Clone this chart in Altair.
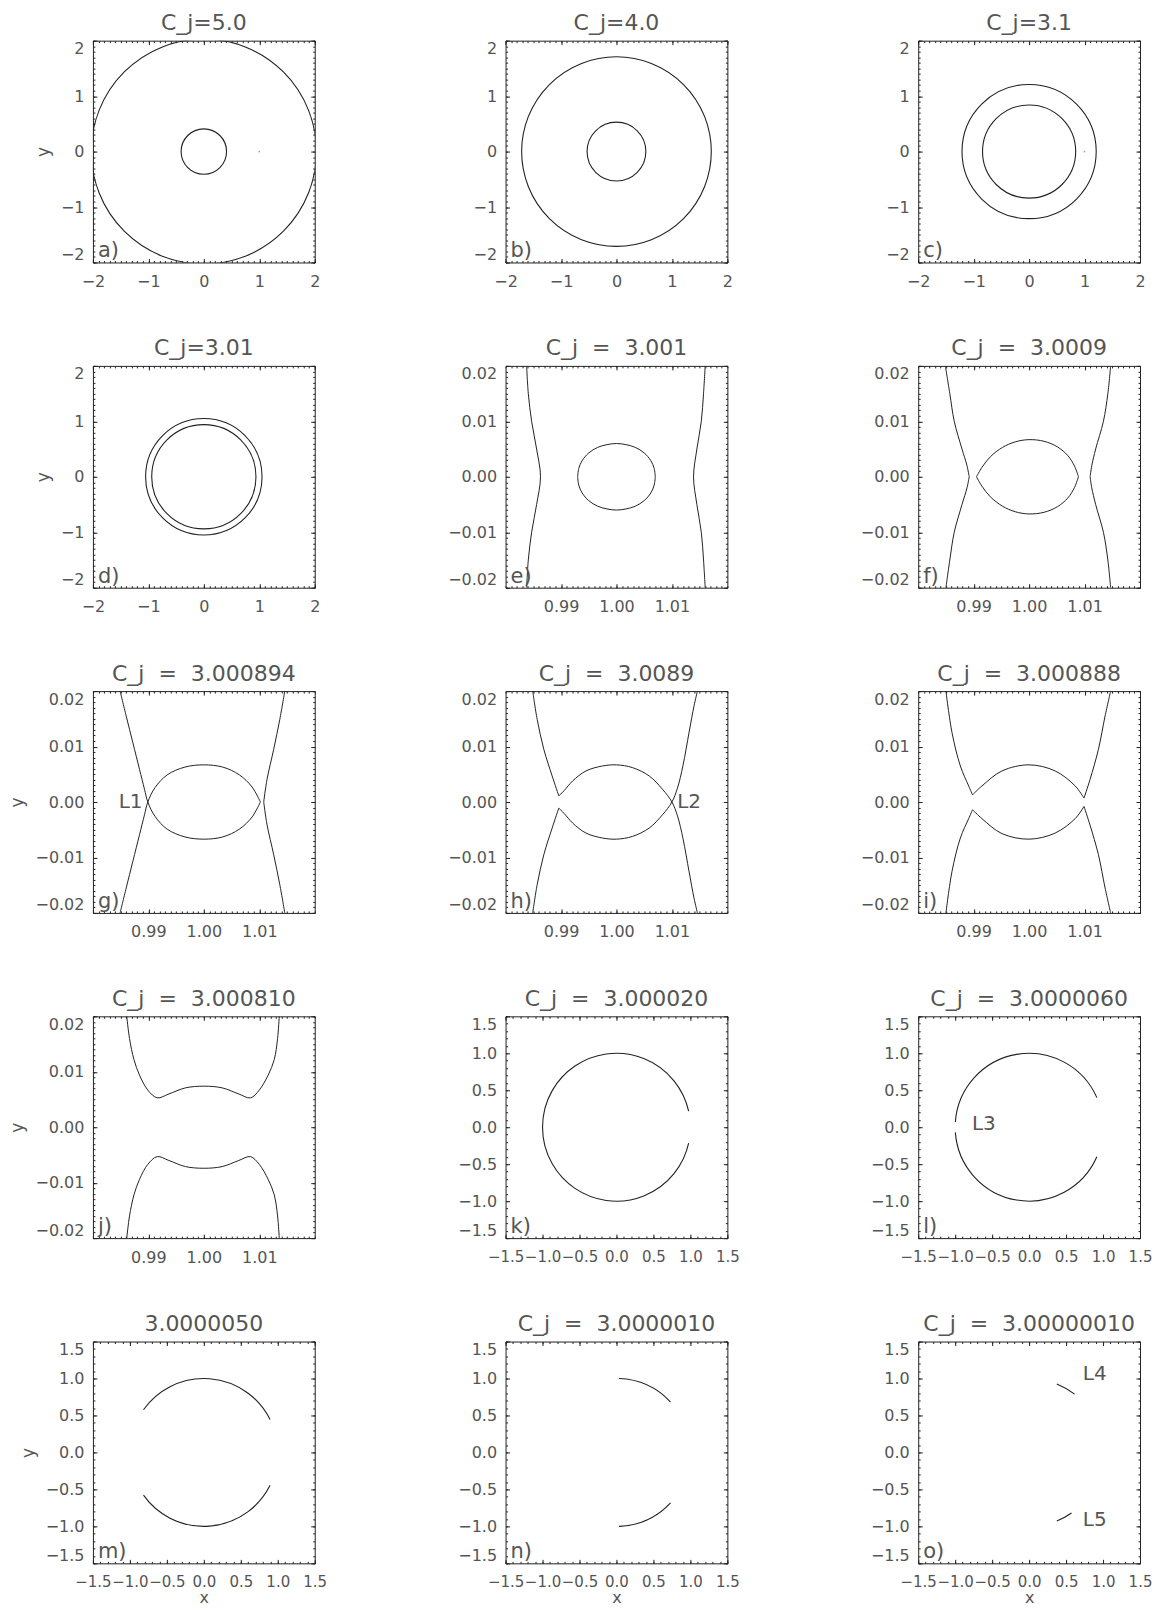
import altair as alt
import pandas as pd

# ---------------- data ----------------
TITLES = ["C_j=5.0", "C_j=4.0", "C_j=3.1",
          "C_j=3.01", "C_j\u00a0\u00a0=\u00a0\u00a03.001", "C_j\u00a0\u00a0=\u00a0\u00a03.0009",
          "C_j\u00a0\u00a0=\u00a0\u00a03.000894", "C_j\u00a0\u00a0=\u00a0\u00a03.0089", "C_j\u00a0\u00a0=\u00a0\u00a03.000888",
          "C_j\u00a0\u00a0=\u00a0\u00a03.000810", "C_j\u00a0\u00a0=\u00a0\u00a03.000020", "C_j\u00a0\u00a0=\u00a0\u00a03.0000060",
          "3.0000050", "C_j\u00a0\u00a0=\u00a0\u00a03.0000010", "C_j\u00a0\u00a0=\u00a0\u00a03.00000010"]
TAGS = ["a)", "b)", "c)", "d)", "e)", "f)", "g)", "h)", "i)", "j)", "k)", "l)", "m)", "n)", "o)"]
KINDS = ["wide"] * 4 + ["zoom"] * 6 + ["mid"] * 5

WIDE_RANGE = [-2, 2]
WIDE_TICKS = [-2, -1, 0, 1, 2]
ZOOM_X_RANGE = [0.98, 1.02]
ZOOM_X_TICKS = [0.99, 1.00, 1.01]
ZOOM_Y_RANGE = [-0.02, 0.02]
ZOOM_Y_TICKS = [-0.02, -0.01, 0.0, 0.01, 0.02]
MID_RANGE = [-1.5, 1.5]
MID_TICKS = [-1.5, -1.0, -0.5, 0.0, 0.5, 1.0, 1.5]

# circular arcs: (cx, cy, radius, from_deg, to_deg), angles counter-clockwise from +x
ARCS_A = [(0, 0, 2.03, 0, 360), (0, 0, 0.41, 0, 360)]
ARCS_B = [(0, 0, 1.71, 0, 360), (0, 0, 0.53, 0, 360)]
ARCS_C = [(0, 0, 1.21, 0, 360), (0, 0, 0.84, 0, 360)]
ARCS_D = [(0, 0, 1.05, 0, 360), (0, 0, 0.94, 0, 360)]
ARCS_K = [(0, 0, 1.0, 12.5, 347.5)]
ARCS_L = [(0, 0, 1.0, 23.6, 176.0), (0, 0, 1.0, 184.0, 336.4)]
ARCS_M = [(0, 0, 1.0, 26.4, 144.7), (0, 0, 1.0, 215.3, 333.6)]
ARCS_N = [(0, 0, 1.0, 43.0, 88.0), (0, 0, 1.0, 272.0, 317.0)]
ARCS_O = [(0, 0, 1.0, 52.0, 68.0), (0, 0, 1.0, 292.0, 305.0)]

# curves near the secondary (x, y)
E_LEFT = [(0.9838, 0.020), (0.9841, 0.015), (0.9847, 0.010), (0.9856, 0.005), (0.9863, 0.000),
          (0.9856, -0.005), (0.9847, -0.010), (0.9841, -0.015), (0.9838, -0.020)]
E_RIGHT = [(1.0160, 0.020), (1.0157, 0.015), (1.0153, 0.010), (1.0145, 0.005), (1.0139, 0.000),
           (1.0145, -0.005), (1.0153, -0.010), (1.0157, -0.015), (1.0160, -0.020)]
E_OVAL_TOP = [(0.9930, 0.0000), (0.9932, 0.0015), (0.9938, 0.0029), (0.9950, 0.0043), (0.9966, 0.0053),
              (0.9983, 0.0058), (1.0000, 0.0060), (1.0017, 0.0058), (1.0034, 0.0053), (1.0050, 0.0043),
              (1.0062, 0.0029), (1.0068, 0.0015), (1.0070, 0.0000)]
E_OVAL_BOT = [(0.9930, 0.0000), (0.9932, -0.0015), (0.9938, -0.0029), (0.9950, -0.0043), (0.9966, -0.0053),
              (0.9983, -0.0058), (1.0000, -0.0060), (1.0017, -0.0058), (1.0034, -0.0053), (1.0050, -0.0043),
              (1.0062, -0.0029), (1.0068, -0.0015), (1.0070, 0.0000)]

F_LEFT_TOP = [(0.9849, 0.020), (0.9857, 0.015), (0.9865, 0.010), (0.9879, 0.005), (0.9888, 0.002), (0.9892, 0.000)]
F_LEFT_BOT = [(0.9892, 0.000), (0.9888, -0.002), (0.9879, -0.005), (0.9865, -0.010), (0.9857, -0.015), (0.9850, -0.020)]
F_RIGHT_TOP = [(1.0147, 0.020), (1.0142, 0.015), (1.0134, 0.010), (1.0120, 0.005), (1.0113, 0.002), (1.0110, 0.000)]
F_RIGHT_BOT = [(1.0110, 0.000), (1.0113, -0.002), (1.0120, -0.005), (1.0134, -0.010), (1.0142, -0.015), (1.0147, -0.020)]
F_LENS_TOP = [(0.9905, 0.0000), (0.9915, 0.0017), (0.9930, 0.0036), (0.9952, 0.0053), (0.9975, 0.0063),
              (1.0000, 0.0067), (1.0027, 0.0064), (1.0051, 0.0054), (1.0070, 0.0038), (1.0082, 0.0019),
              (1.0089, 0.0000)]
F_LENS_BOT = [(0.9905, 0.0000), (0.9915, -0.0017), (0.9930, -0.0036), (0.9952, -0.0053), (0.9975, -0.0063),
              (1.0000, -0.0067), (1.0027, -0.0064), (1.0051, -0.0054), (1.0070, -0.0038), (1.0082, -0.0019),
              (1.0089, 0.0000)]

G_CROSS_A = [(0.9849, 0.020), (0.9860, 0.0155), (0.9872, 0.0107), (0.9884, 0.0059), (0.9893, 0.0023),
             (0.9899, 0.0000), (0.9912, -0.0026), (0.9934, -0.0049), (0.9966, -0.0063), (1.0000, -0.0067),
             (1.0034, -0.0063), (1.0064, -0.0049), (1.0087, -0.0027), (1.0102, 0.0000)]
G_CROSS_B = [(0.9849, -0.020), (0.9860, -0.0155), (0.9872, -0.0107), (0.9884, -0.0059), (0.9893, -0.0023),
             (0.9899, 0.0000), (0.9912, 0.0026), (0.9934, 0.0049), (0.9966, 0.0063), (1.0000, 0.0067),
             (1.0034, 0.0063), (1.0064, 0.0049), (1.0087, 0.0027), (1.0102, 0.0000)]
G_RIGHT_TOP = [(1.0146, 0.020), (1.0137, 0.0149), (1.0126, 0.0095), (1.0114, 0.0041), (1.0108, 0.0000)]
G_RIGHT_BOT = [(1.0108, 0.0000), (1.0114, -0.0041), (1.0126, -0.0095), (1.0137, -0.0149), (1.0146, -0.020)]

H_TOP_ARM = [(0.9849, 0.020), (0.9857, 0.0149), (0.9869, 0.0095), (0.9884, 0.0047), (0.9896, 0.0011)]
H_TOP_LENS = [(0.9896, 0.0011), (0.9906, 0.0021), (0.9921, 0.0038), (0.9945, 0.0056), (0.9975, 0.0065),
              (1.0000, 0.0067), (1.0029, 0.0062), (1.0059, 0.0047), (1.0083, 0.0023), (1.0100, 0.0000),
              (1.0110, -0.0025), (1.0120, -0.0066), (1.0131, -0.0126), (1.0140, -0.0174), (1.0146, -0.020)]
H_BOT_ARM = [(0.9849, -0.020), (0.9857, -0.0149), (0.9869, -0.0095), (0.9884, -0.0047), (0.9896, -0.0011)]
H_BOT_LENS = [(0.9896, -0.0011), (0.9906, -0.0021), (0.9921, -0.0038), (0.9945, -0.0056), (0.9975, -0.0065),
              (1.0000, -0.0067), (1.0029, -0.0062), (1.0059, -0.0047), (1.0083, -0.0023), (1.0100, 0.0000),
              (1.0110, 0.0025), (1.0120, 0.0066), (1.0131, 0.0126), (1.0140, 0.0174), (1.0146, 0.020)]

I_TOP_LEFT = [(0.9850, 0.020), (0.9861, 0.0125), (0.9876, 0.0065), (0.9891, 0.0029), (0.9898, 0.0013)]
I_TOP_MID = [(0.9898, 0.0013), (0.9915, 0.0029), (0.9951, 0.0056), (1.0000, 0.0067), (1.0047, 0.0056),
             (1.0083, 0.0029), (1.0099, 0.0007)]
I_TOP_RIGHT = [(1.0099, 0.0007), (1.0110, 0.0041), (1.0125, 0.0095), (1.0137, 0.0155), (1.0147, 0.020)]
I_BOT_LEFT = [(0.9850, -0.020), (0.9861, -0.0125), (0.9876, -0.0065), (0.9891, -0.0030), (0.9898, -0.0014)]
I_BOT_MID = [(0.9898, -0.0014), (0.9915, -0.0030), (0.9951, -0.0057), (1.0000, -0.0067), (1.0047, -0.0056),
             (1.0083, -0.0030), (1.0099, -0.0008)]
I_BOT_RIGHT = [(1.0099, -0.0008), (1.0110, -0.0042), (1.0125, -0.0095), (1.0137, -0.0155), (1.0147, -0.020)]

J_TOP = [(0.9861, 0.020), (0.9866, 0.0160), (0.9874, 0.0122), (0.9884, 0.0094), (0.9899, 0.0067),
         (0.9916, 0.0053), (0.9937, 0.0060), (0.9967, 0.0071), (1.0000, 0.0074), (1.0033, 0.0071),
         (1.0063, 0.0060), (1.0084, 0.0053), (1.0100, 0.0067), (1.0116, 0.0094), (1.0127, 0.0122),
         (1.0133, 0.0160), (1.0136, 0.020)]
J_BOT = [(0.9861, -0.020), (0.9866, -0.0160), (0.9874, -0.0122), (0.9884, -0.0094), (0.9899, -0.0067),
         (0.9916, -0.0053), (0.9937, -0.0060), (0.9967, -0.0071), (1.0000, -0.0074), (1.0033, -0.0071),
         (1.0063, -0.0060), (1.0084, -0.0053), (1.0100, -0.0067), (1.0116, -0.0094), (1.0127, -0.0122),
         (1.0133, -0.0160), (1.0136, -0.020)]

ARCS = {0: ARCS_A, 1: ARCS_B, 2: ARCS_C, 3: ARCS_D, 10: ARCS_K, 11: ARCS_L, 12: ARCS_M, 13: ARCS_N, 14: ARCS_O}
CURVES = {
    4: [E_LEFT, E_RIGHT, E_OVAL_TOP, E_OVAL_BOT],
    5: [F_LEFT_TOP, F_LEFT_BOT, F_RIGHT_TOP, F_RIGHT_BOT, F_LENS_TOP, F_LENS_BOT],
    6: [G_CROSS_A, G_CROSS_B, G_RIGHT_TOP, G_RIGHT_BOT],
    7: [H_TOP_ARM, H_TOP_LENS, H_BOT_ARM, H_BOT_LENS],
    8: [I_TOP_LEFT, I_TOP_MID, I_TOP_RIGHT, I_BOT_LEFT, I_BOT_MID, I_BOT_RIGHT],
    9: [J_TOP, J_BOT],
}
POINT_LABELS = {6: [("L1", 0.9893, 0.0, "right")], 7: [("L2", 1.0106, 0.0, "left")],
                11: [("L3", -0.80, 0.05, "left")],
                14: [("L4", 0.70, 1.06, "left"), ("L5", 0.70, -0.91, "left")]}
MASS_DOTS = {0: [(1.0, 0.0)], 2: [(1.0, 0.0)]}

# ---------------- style ----------------
W = H = 222
FONT = "DejaVu Sans"
TXT = "#555555"
INK = "#222222"


def steps(lo, hi, step):
    n = int(round((hi - lo) / step))
    return [round(lo + k * step, 6) for k in range(n + 1)]


def setup(kind):
    if kind == "wide":
        return WIDE_RANGE, WIDE_RANGE, WIDE_TICKS, WIDE_TICKS, "d", "d", 0.1, 0.1
    if kind == "zoom":
        return ZOOM_X_RANGE, ZOOM_Y_RANGE, ZOOM_X_TICKS, ZOOM_Y_TICKS, ".2f", ".2f", 0.001, 0.001
    return MID_RANGE, MID_RANGE, MID_TICKS, MID_TICKS, ".1f", ".1f", 0.1, 0.1


def build_panel(i):
    kind = KINDS[i]
    xr, yr, xt, yt, fx, fy, mx, my = setup(kind)
    row, col = divmod(i, 3)
    sx = alt.Scale(domain=xr, nice=False, zero=False)
    sy = alt.Scale(domain=yr, nice=False, zero=False)
    anchor = pd.DataFrame({"x": [xr[0]], "y": [yr[0]]})
    base = alt.Chart(anchor).mark_point(opacity=0, size=1)

    xlab = dict(orient="bottom", values=xt, format=fx, ticks=False, domain=False, grid=False,
                labelPadding=11, labelOverlap=False, labelFlush=False, titlePadding=0, titleFontSize=16,
                labelFontSize=(15 if kind == "mid" else 16))
    ylab = dict(orient="left", values=yt, format=fy, ticks=False, domain=False, grid=False,
                labelPadding=9, labelOverlap=False, labelFlush=True, titlePadding=8)
    xlab["title"] = "x" if row == 4 else None
    ylab["title"] = "y" if col == 0 else None
    layers = [base.encode(x=alt.X("x:Q", scale=sx, axis=alt.Axis(**xlab)),
                          y=alt.Y("y:Q", scale=sy, axis=alt.Axis(**ylab)))]

    xminor = steps(xr[0], xr[1], mx)
    yminor = steps(yr[0], yr[1], my)
    for (xo, yo) in [("bottom", "left"), ("top", "right")]:
        for vals_x, vals_y, size in [(xt, yt, 4), (xminor, yminor, 2)]:
            layers.append(base.encode(
                x=alt.X("x:Q", scale=sx, axis=alt.Axis(orient=xo, values=vals_x, labels=False, domain=False,
                                                       grid=False, tickSize=size, offset=-size, title=None,
                                                       tickColor=INK)),
                y=alt.Y("y:Q", scale=sy, axis=alt.Axis(orient=yo, values=vals_y, labels=False, domain=False,
                                                       grid=False, tickSize=size, offset=-size, title=None,
                                                       tickColor=INK))))

    if i in ARCS:
        rows = []
        for (cx, cy, r, a0, a1) in ARCS[i]:
            rows.append({"cx": cx, "cy": cy, "r": r, "t1": 90 - a1 + 360, "t2": 90 - a0 + 360})
        half = (xr[1] - xr[0]) / 2
        layers.append(alt.Chart(pd.DataFrame(rows)).mark_arc(
            clip=True, stroke=INK, strokeWidth=1.1, fillOpacity=0).encode(
            x=alt.X("cx:Q", scale=sx, axis=None),
            y=alt.Y("cy:Q", scale=sy, axis=None),
            theta=alt.Theta("t1:Q", stack=False, scale=alt.Scale(domain=[0, 360], range=[0, 6.283185307179586])),
            theta2="t2:Q",
            radius=alt.Radius("r:Q", scale=alt.Scale(type="linear", domain=[0, half], range=[0, W / 2], zero=True)),
            radius2="r:Q"))

    if i in CURVES:
        rows = []
        for cid, curve in enumerate(CURVES[i]):
            for k, (x, y) in enumerate(curve):
                rows.append({"cid": cid, "k": k, "x": x, "y": y})
        layers.append(alt.Chart(pd.DataFrame(rows)).mark_line(
            interpolate="catmull-rom", clip=True, color=INK, strokeWidth=1).encode(
            x=alt.X("x:Q", scale=sx, axis=None),
            y=alt.Y("y:Q", scale=sy, axis=None),
            detail="cid:N", order="k:Q"))

    if i in MASS_DOTS:
        layers.append(alt.Chart(pd.DataFrame([{"x": a, "y": b} for a, b in MASS_DOTS[i]])).mark_point(
            filled=True, size=3, color="#777777").encode(
            x=alt.X("x:Q", scale=sx, axis=None), y=alt.Y("y:Q", scale=sy, axis=None)))

    if i in POINT_LABELS:
        for (txt, px, py, al) in POINT_LABELS[i]:
            layers.append(alt.Chart(pd.DataFrame([{"x": px, "y": py, "t": txt}])).mark_text(
                align=al, baseline="middle", font=FONT, fontSize=20, color=TXT,
                dx=(-2 if al == "right" else 2)).encode(
                x=alt.X("x:Q", scale=sx, axis=None), y=alt.Y("y:Q", scale=sy, axis=None), text="t:N"))

    layers.append(alt.Chart(pd.DataFrame([{"x": xr[0], "y": yr[0], "t": TAGS[i]}])).mark_text(
        align="left", baseline="alphabetic", font=FONT, fontSize=21, color=TXT, dx=5, dy=-5).encode(
        x=alt.X("x:Q", scale=sx, axis=None), y=alt.Y("y:Q", scale=sy, axis=None), text="t:N"))

    return alt.layer(*layers).properties(
        width=W, height=H,
        title=alt.TitleParams(TITLES[i], anchor="middle", offset=5, font=FONT, fontSize=22,
                              color=TXT, fontWeight="normal"),
    ).resolve_axis(x="independent", y="independent")


panels = [build_panel(i) for i in range(15)]

chart = alt.concat(*panels, columns=3, spacing={"row": 103.5, "column": 191}, bounds="flush").properties(
    padding={"left": 0, "top": 3, "right": 0, "bottom": 0}
).configure_view(stroke=INK, strokeWidth=1).configure_axis(
    labelFont=FONT, labelFontSize=16, labelColor=TXT, titleFont=FONT, titleFontSize=17,
    titleColor=TXT, titleFontWeight="normal", tickColor=INK, tickWidth=1
)

chart.save("out.html", embed_options={"renderer": "svg", "actions": False})
